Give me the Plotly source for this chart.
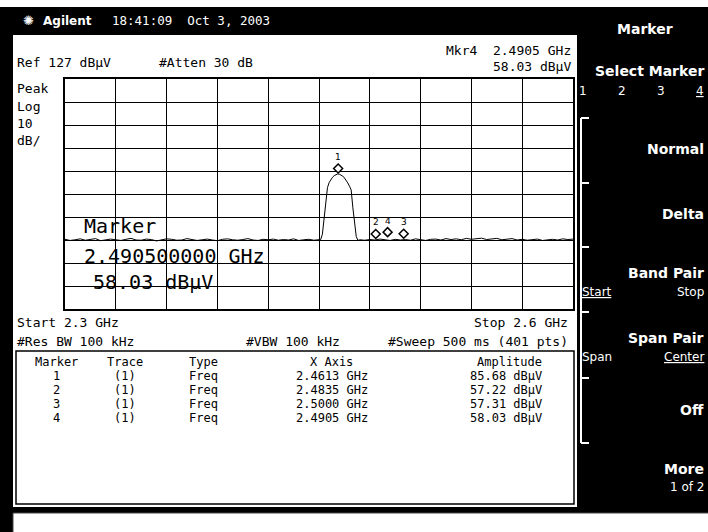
import numpy as np
import plotly.graph_objects as go

# ---------------- data ----------------
start_ghz = 2.3
stop_ghz = 2.6
ref_dbuv = 127
db_per_div = 10

# noise floor left of the signal (2.300 .. 2.450 GHz)
noise_left_dbuv = [57.3, 56.8, 57.1, 57.5, 56.9, 57.2, 57.6, 56.7, 57.0, 57.4,
                   57.1, 56.8, 57.3, 57.7, 57.0, 56.9, 57.4, 57.2, 56.6, 57.1,
                   57.5, 57.3, 56.9, 57.0, 57.6, 57.2, 56.8, 57.1, 57.4, 57.0,
                   56.7, 57.3, 57.5, 57.1, 56.9, 57.2, 57.6, 57.0, 56.8, 57.3,
                   57.1, 57.4, 56.9, 57.2, 57.0, 57.5, 56.8, 57.1, 57.3, 56.9, 57.2]
# signal channel (2.451 .. 2.474 GHz, 1 MHz steps)
signal_dbuv = [57.2, 59.5, 66.5, 75.0, 79.8, 82.0, 83.4, 84.3, 85.0, 85.5,
               85.7, 85.6, 85.3, 84.8, 84.0, 83.0, 81.8, 80.4, 78.8, 71.0,
               64.5, 58.5, 56.8, 57.1]
# noise floor right of the signal (2.477 .. 2.600 GHz)
noise_right_dbuv = [56.9, 57.2, 57.0, 57.4, 57.1, 56.8, 57.3, 57.0, 57.2, 56.9,
                    57.5, 57.1, 56.8, 57.3, 57.4, 57.0, 57.6, 57.2, 57.5, 57.1,
                    57.7, 57.3, 57.6, 57.8, 57.2, 57.5, 57.7, 57.1, 57.4, 57.6,
                    57.0, 57.3, 56.9, 57.2, 57.4, 56.8, 57.1, 57.3, 57.0, 57.5,
                    57.2, 57.4]

marker_ids = [1, 2, 3, 4]
marker_trace = ["(1)", "(1)", "(1)", "(1)"]
marker_type = ["Freq", "Freq", "Freq", "Freq"]
marker_freq_ghz = [2.4613, 2.4835, 2.5000, 2.4905]
marker_amp_dbuv = [85.68, 57.22, 57.31, 58.03]

# sweep point positions of each segment
f_left = np.linspace(2.300, 2.450, len(noise_left_dbuv))
f_sig = np.linspace(2.451, 2.474, len(signal_dbuv))
f_right = np.linspace(2.477, 2.600, len(noise_right_dbuv))
freq = np.concatenate([f_left, f_sig, f_right])
amp = np.array(noise_left_dbuv + signal_dbuv + noise_right_dbuv)

# ---------------- layout helpers ----------------
W, H = 708, 532
L, R, T, B = 65, 573, 79, 309
MONO = "DejaVu Sans Mono"
SANS = "DejaVu Sans"


def px(x):
    return (x - L) / (R - L)


def py(y):
    return (B - y) / (B - T)


annotations = []


def text(s, x, y, anchor="left", size=13, color="black", family=MONO,
         weight="normal", underline=False):
    f = dict(family=family, size=size, color=color, weight=weight)
    if underline:
        f["lineposition"] = "under"
    annotations.append(dict(text=s, x=px(x), y=py(y), xref="paper", yref="paper",
                            xanchor=anchor, yanchor="middle", showarrow=False,
                            font=f))


shapes = []


def rect(x0, y0, x1, y1, fill=None, line=None, lw=1, layer="below"):
    shapes.append(dict(type="rect", xref="paper", yref="paper",
                       x0=px(x0), x1=px(x1), y0=py(y0), y1=py(y1),
                       fillcolor=fill if fill else "rgba(0,0,0,0)",
                       line=dict(color=line if line else "rgba(0,0,0,0)", width=lw),
                       layer=layer))


def seg(x0, y0, x1, y1, color="white", lw=2):
    shapes.append(dict(type="line", xref="paper", yref="paper",
                       x0=px(x0), x1=px(x1), y0=py(y0), y1=py(y1),
                       line=dict(color=color, width=lw), layer="above"))


# panels
rect(0, 0, 708, 7, fill="white")
rect(13, 35, 577, 507, fill="white")
rect(13, 513, 712, 536, fill="white", line="#444", lw=1)
rect(16, 351, 574, 504, line="black", lw=1.5, layer="above")

# menu bracket
seg(581, 118, 581, 443)
for yy in [118, 183, 247, 312, 378, 443]:
    seg(581, yy, 589, yy)

# marker diamonds (anchored at marker data values)
for f, a in zip(marker_freq_ghz, marker_amp_dbuv):
    shapes.append(dict(type="path", xref="x", yref="y", xsizemode="pixel",
                       ysizemode="pixel", xanchor=f, yanchor=a,
                       path="M0,1 L4.5,5.5 L0,10 L-4.5,5.5 Z",
                       fillcolor="white", line=dict(color="black", width=1.5),
                       layer="above"))
for i, f, a in zip(marker_ids, marker_freq_ghz, marker_amp_dbuv):
    annotations.append(dict(text=str(i), x=f, y=a, xref="x", yref="y",
                            yshift=17, showarrow=False,
                            font=dict(family=SANS, size=9, color="black")))

NB = "\u00a0"
# top bar
text("✺", 28, 21, anchor="center", size=13, color="white", family=SANS)
text("Agilent", 41, 21, size=12, color="white", family=SANS, weight="bold")
text(f"18:41:09{NB}{NB}Oct{NB}3,{NB}2003", 110, 21, size=12.5, color="white")

# graticule annotations
text(f"Ref{NB}{ref_dbuv}{NB}dBμV", 15, 63)
text(f"#Atten{NB}30{NB}dB", 157, 63)
text(f"Mkr4{NB}{NB}{marker_freq_ghz[3]:.4f}{NB}GHz", 573, 50, anchor="right")
text(f"{marker_amp_dbuv[3]:.2f}{NB}dBμV", 573, 66, anchor="right")
text("Peak", 15, 88)
text("Log", 15, 106)
text(f"{db_per_div}", 15, 123)
text("dB/", 15, 140)
text(f"Start{NB}{start_ghz}{NB}GHz", 15, 322)
text(f"Stop{NB}{stop_ghz}{NB}GHz", 570, 322, anchor="right")
text(f"#Res{NB}BW{NB}100{NB}kHz", 15, 341)
text(f"#VBW{NB}100{NB}kHz", 244, 341)
text(f"#Sweep{NB}500{NB}ms{NB}(401{NB}pts)", 570, 341, anchor="right")

# big marker readout
text("Marker", 82, 226, size=20)
text(f"{marker_freq_ghz[3]:.9f}{NB}GHz", 82, 256, size=20)
text(f"{marker_amp_dbuv[3]:.2f}{NB}dBμV", 91, 282, size=20)

# marker table
ts = 12
text("Marker", 56, 362, anchor="center", size=ts)
text("Trace", 125, 362, anchor="center", size=ts)
text("Type", 187, 362, size=ts)
text(f"X{NB}Axis", 331, 362, anchor="center", size=ts)
text("Amplitude", 544, 362, anchor="right", size=ts)
for k, (i, tr, ty, f, a) in enumerate(zip(marker_ids, marker_trace, marker_type,
                                           marker_freq_ghz, marker_amp_dbuv)):
    yy = 376 + 14 * k
    text(str(i), 56, yy, anchor="center", size=ts)
    text(tr, 125, yy, anchor="center", size=ts)
    text(ty, 187, yy, size=ts)
    text(f"{f:.4f}{NB}GHz", 332, yy, anchor="center", size=ts)
    text(f"{a:.2f}{NB}dBμV", 544, yy, anchor="right", size=ts)

# right-hand menu
MR = 706
text("Marker", 645, 29, anchor="center", size=14, color="white", family=SANS, weight="bold")
text(f"Select{NB}Marker", MR, 71, anchor="right", size=14, color="white", family=SANS, weight="bold")
for k, lab in enumerate(["1", "2", "3", "4"]):
    text(lab, 583 + 39 * k, 91, anchor="center", size=12, color="white", family=SANS,
         underline=(lab == "4"))
text("Normal", MR, 149, anchor="right", size=14, color="white", family=SANS, weight="bold")
text("Delta", MR, 214, anchor="right", size=14, color="white", family=SANS, weight="bold")
text(f"Band{NB}Pair", MR, 273, anchor="right", size=14, color="white", family=SANS, weight="bold")
text("Start", 580, 292, size=12, color="white", family=SANS, underline=True)
text("Stop", MR, 292, anchor="right", size=12, color="white", family=SANS)
text(f"Span{NB}Pair", MR, 338, anchor="right", size=14, color="white", family=SANS, weight="bold")
text("Span", 580, 357, size=12, color="white", family=SANS)
text("Center", MR, 357, anchor="right", size=12, color="white", family=SANS, underline=True)
text("Off", MR, 410, anchor="right", size=14, color="white", family=SANS, weight="bold")
text("More", MR, 469, anchor="right", size=14, color="white", family=SANS, weight="bold")
text(f"1{NB}of{NB}2", MR, 487, anchor="right", size=12, color="white", family=SANS)

fig = go.Figure()
fig.add_trace(go.Scatter(x=freq, y=amp, mode="lines",
                         line=dict(color="black", width=1), hoverinfo="skip",
                         showlegend=False))

fig.update_layout(
    width=W, height=H,
    margin=dict(l=L, r=W - R, t=T, b=H - B, pad=0),
    paper_bgcolor="black", plot_bgcolor="white",
    showlegend=False,
    xaxis=dict(range=[start_ghz, stop_ghz], dtick=(stop_ghz - start_ghz) / 10,
               tick0=start_ghz, showgrid=True, gridcolor="black", gridwidth=1,
               zeroline=False, showticklabels=False, ticks="",
               showline=True, linecolor="black", linewidth=2, mirror=True),
    yaxis=dict(range=[ref_dbuv - 10 * db_per_div, ref_dbuv], dtick=db_per_div,
               tick0=ref_dbuv, showgrid=True, gridcolor="black", gridwidth=1,
               zeroline=False, showticklabels=False, ticks="",
               showline=True, linecolor="black", linewidth=2, mirror=True),
    shapes=shapes,
    annotations=annotations,
)

fig.write_html("out.html", config={"displayModeBar": False},
               post_script="document.body.style.margin='0';"
                           "document.body.style.overflow='hidden';")
